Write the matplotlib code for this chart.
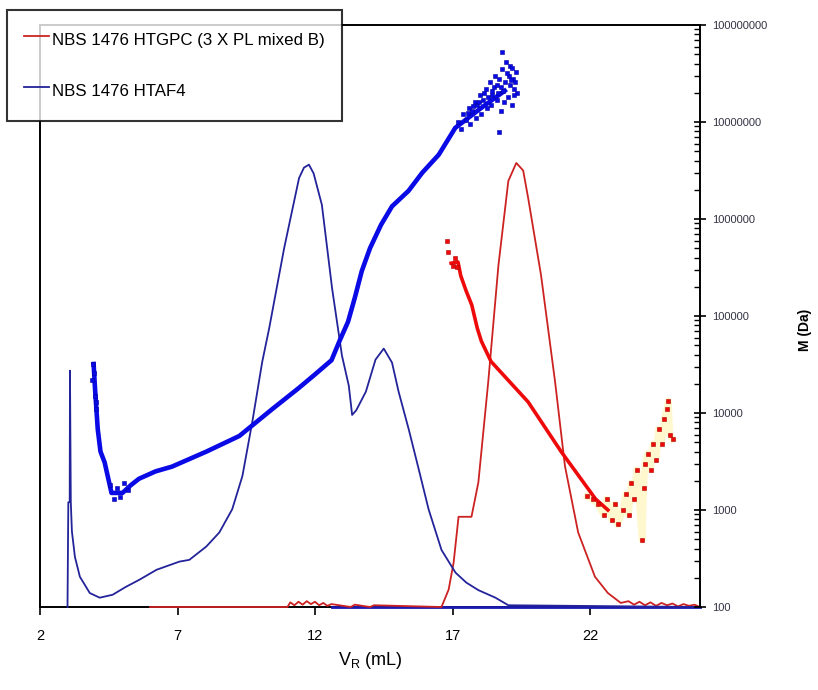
import matplotlib
matplotlib.use("Agg")
import matplotlib.pyplot as plt
from matplotlib.ticker import FixedLocator, FuncFormatter, NullFormatter, LogLocator

plt.rcParams['font.family'] = ['Liberation Sans', 'DejaVu Sans']

# ---------------- data ----------------
# HTAF4 concentration signal (relative)
af4_vr = [3.00, 3.03, 3.08, 3.09, 3.12, 3.16, 3.27, 3.45, 3.81, 4.17,
          4.64, 5.10, 5.62, 6.24, 7.07, 7.43, 8.05, 8.52, 8.99, 9.36,
          9.72, 10.08, 10.33, 10.88, 11.42, 11.60, 11.78, 11.95, 12.25, 12.62,
          12.98, 13.23, 13.35, 13.50, 13.85, 14.20, 14.50, 14.80, 15.04, 15.41,
          15.77, 16.13, 16.60, 17.11, 17.50, 17.94, 18.56, 19.03, 26.00]
af4_sig = [0.000, 0.180, 0.180, 0.406, 0.180, 0.130, 0.086, 0.052, 0.024, 0.016,
           0.021, 0.034, 0.047, 0.064, 0.078, 0.081, 0.104, 0.128, 0.168, 0.225,
           0.318, 0.421, 0.478, 0.617, 0.737, 0.755, 0.760, 0.745, 0.691, 0.548,
           0.432, 0.380, 0.330, 0.338, 0.370, 0.425, 0.444, 0.420, 0.370, 0.305,
           0.237, 0.168, 0.098, 0.059, 0.042, 0.029, 0.016, 0.003, 0.000]
af4_base_vr = [12.6, 26.0]
af4_base_sig = [0.0, 0.0]

# HTGPC concentration signal (relative)
gpc_vr = [6.00, 11.00, 11.10, 11.25, 11.40, 11.55, 11.70, 11.85, 12.00, 12.15,
          12.30, 12.45, 12.60, 13.30, 13.45, 14.00, 14.15, 16.60, 16.86, 17.04,
          17.22, 17.69, 17.94, 18.30, 18.67, 19.03, 19.32, 19.57, 19.75, 20.22,
          20.73, 21.09, 21.57, 22.18, 22.65, 23.12, 23.40, 23.60, 23.80, 24.00,
          24.20, 24.40, 24.60, 24.80, 25.00, 25.20, 25.40, 25.60, 25.80, 26.00]
gpc_sig = [0.000, 0.000, 0.008, 0.003, 0.009, 0.004, 0.010, 0.005, 0.009, 0.003,
           0.007, 0.002, 0.005, 0.000, 0.004, 0.000, 0.003, 0.000, 0.030, 0.076,
           0.155, 0.155, 0.214, 0.387, 0.587, 0.732, 0.763, 0.750, 0.703, 0.570,
           0.387, 0.242, 0.128, 0.052, 0.024, 0.007, 0.010, 0.004, 0.009, 0.003,
           0.008, 0.002, 0.007, 0.003, 0.006, 0.001, 0.005, 0.002, 0.004, 0.000]

# HTAF4 molar mass (Da) - main trend
af4_M_vr = [3.95, 4.00, 4.10, 4.20, 4.35, 4.60, 5.00, 5.30, 5.60, 6.20,
            6.80, 8.05, 9.25, 10.45, 11.40, 12.00, 12.60, 12.90, 13.20, 13.45,
            13.70, 14.00, 14.40, 14.80, 15.40, 15.90, 16.50, 17.10, 18.05, 18.90]
af4_M = [3.2e4, 1.8e4, 6.8e3, 4.0e3, 3.1e3, 1.5e3, 1.5e3, 1.8e3, 2.1e3, 2.5e3,
         2.8e3, 4.0e3, 5.8e3, 1.1e4, 1.8e4, 2.5e4, 3.5e4, 5.6e4, 8.7e4, 1.55e5,
         2.9e5, 5.0e5, 8.7e5, 1.35e6, 1.95e6, 3.0e6, 4.6e6, 8.7e6, 1.4e7, 2.1e7]
# HTAF4 molar mass - scattered points
af4_pts_vr = [3.93, 3.95, 3.90, 4.00, 4.05, 4.02, 4.55, 4.70, 4.80, 4.90,
              5.05, 5.20, 17.2, 17.3, 17.4, 17.5, 17.6, 17.65, 17.7, 17.8,
              17.85, 17.9, 18.0, 18.05, 18.1, 18.2, 18.25, 18.3, 18.35, 18.4,
              18.5, 18.55, 18.6, 18.65, 18.7, 18.75, 18.8, 18.85, 18.9, 18.95,
              19.0, 19.05, 19.1, 19.1, 19.15, 19.2, 19.25, 19.3, 19.35, 18.8,
              18.7, 17.55, 17.75, 17.95, 18.15, 18.45, 18.62, 18.78, 18.98, 19.12,
              19.22, 19.28, 18.42, 18.88, 19.18]
af4_pts_M = [3.2e4, 2.6e4, 2.2e4, 1.5e4, 1.1e4, 1.3e4, 1.8e3, 1.3e3, 1.7e3, 1.35e3,
             1.9e3, 1.6e3, 1.0e7, 8.5e6, 1.2e7, 1.05e7, 1.4e7, 9.5e6, 1.3e7, 1.6e7,
             1.1e7, 1.5e7, 1.9e7, 1.2e7, 1.7e7, 2.2e7, 1.4e7, 1.8e7, 2.6e7, 1.5e7,
             2.3e7, 3.0e7, 1.7e7, 2.0e7, 2.8e7, 1.3e7, 3.5e7, 2.1e7, 2.6e7, 4.2e7,
             1.8e7, 3.0e7, 2.4e7, 3.8e7, 1.5e7, 2.8e7, 2.2e7, 3.3e7, 2.0e7, 5.3e7,
             7.8e6, 1.25e7, 1.45e7, 1.6e7, 2.0e7, 1.9e7, 2.4e7, 2.3e7, 3.2e7, 2.7e7,
             1.9e7, 2.6e7, 2.1e7, 1.6e7, 3.6e7]

# HTGPC molar mass (Da) - main trend
gpc_M_vr = [16.95, 17.20, 17.30, 17.50, 17.70, 17.90, 18.05, 18.40, 19.75, 20.95,
            22.20, 22.65]
gpc_M = [3.5e5, 3.6e5, 2.6e5, 1.8e5, 1.3e5, 7.5e4, 5.5e4, 3.4e4, 1.3e4, 4.0e3,
         1.3e3, 1.0e3]
# HTGPC molar mass - scattered points
gpc_pts_vr = [16.80, 16.85, 17.00, 17.10, 17.15, 21.90, 22.10, 22.30, 22.50, 22.60,
              22.80, 22.90, 23.00, 23.20, 23.30, 23.40, 23.50, 23.60, 23.70, 23.90,
              23.95, 24.00, 24.10, 24.20, 24.30, 24.40, 24.50, 24.60, 24.70, 24.80,
              24.85, 24.90, 25.00]
gpc_pts_M = [5.9e5, 4.6e5, 3.3e5, 4.0e5, 3.2e5, 1.38e3, 1.29e3, 1.14e3, 8.9e2, 1.29e3,
             7.9e2, 1.14e3, 7.1e2, 1.0e3, 1.45e3, 8.9e2, 1.9e3, 1.29e3, 2.6e3, 4.9e2,
             1.7e3, 3.0e3, 3.8e3, 2.6e3, 4.8e3, 3.3e3, 6.8e3, 4.8e3, 8.7e3, 1.1e4,
             1.33e4, 6.0e3, 5.4e3]

x_ticks = [2, 7, 12, 17, 22]
m_ticks = [1e2, 1e3, 1e4, 1e5, 1e6, 1e7, 1e8]
label_gpc = "NBS 1476 HTGPC (3 X PL mixed B)"
label_af4 = "NBS 1476 HTAF4"

# ---------------- figure ----------------
W, H = 818, 690
fig = plt.figure(figsize=(W / 100, H / 100), dpi=100)
ax = fig.add_axes([40 / W, 1 - 607 / H, 660 / W, 582 / H])
ax2 = ax.twinx()

blue_sig = '#23239a'
red_sig = '#cc2222'
blue_M = '#0a0ae6'
red_M = '#ee0a0a'

# signals
ax.plot(af4_base_vr, af4_base_sig, color='#1a1ab0', lw=2.0, zorder=3, clip_on=False)
ax.plot(gpc_vr, gpc_sig, color=red_sig, lw=1.3, zorder=3, clip_on=False)
l_af4, = ax.plot(af4_vr, af4_sig, color=blue_sig, lw=1.3, zorder=4, clip_on=False)
l_gpc, = ax.plot([], [], color=red_sig, lw=1.3)
ax.set_xlim(2, 26)
ax.set_ylim(0, 1)

# molar masses
ax2.set_yscale('log')
ax2.set_ylim(m_ticks[0], m_ticks[-1])
ax2.plot(gpc_pts_vr[5:], gpc_pts_M[5:], color='#fff4b0', lw=5, alpha=0.6, zorder=1)
ax2.plot(gpc_M_vr, gpc_M, color=red_M, lw=2.6, zorder=2)
ax2.plot(gpc_pts_vr, gpc_pts_M, ls='none', marker='s', ms=2.4, color=red_M,
         mec='#b00000', mew=0.4, zorder=3)
ax2.plot(af4_M_vr, af4_M, color=blue_M, lw=3.3, zorder=2)
ax2.plot(af4_pts_vr, af4_pts_M, ls='none', marker='s', ms=2.4, color=blue_M,
         mec='#0000a0', mew=0.4, zorder=3)

# spines / ticks
for s in ['left', 'top', 'bottom']:
    ax2.spines[s].set_visible(False)
ax.spines['right'].set_visible(False)
for s in ['left', 'bottom', 'top']:
    ax.spines[s].set_linewidth(1.4)
ax2.spines['right'].set_linewidth(1.4)

ax.set_xticks(x_ticks)
ax.set_xticklabels([str(t) for t in x_ticks])
ax.tick_params(axis='x', direction='out', length=6, width=1.2, labelsize=10.5,
               pad=10, colors='black')
ax.tick_params(axis='y', left=False, labelleft=False)
ax2.tick_params(axis='x', bottom=False, labelbottom=False)

ax2.yaxis.set_major_locator(FixedLocator(m_ticks))
ax2.yaxis.set_minor_locator(LogLocator(base=10, subs=range(2, 10), numticks=20))
ax2.yaxis.set_major_formatter(FuncFormatter(lambda v, _: f"{int(round(v))}"))
ax2.yaxis.set_minor_formatter(NullFormatter())
ax2.tick_params(axis='y', which='major', direction='inout', length=9, width=1.2,
                labelsize=8, labelcolor='#333344', pad=4)
ax2.tick_params(axis='y', which='minor', direction='in', length=4, width=1.0)

ax.set_xlabel(r"V$_\mathregular{R}$ (mL)", fontsize=13, labelpad=5)
fig.text(805 / W, 1 - 330 / H, "M (Da)", rotation=90, fontsize=10,
         fontweight='bold', ha='center', va='center')

leg = fig.legend([l_gpc, l_af4], [label_gpc, label_af4], loc='upper left',
                 bbox_to_anchor=(7 / W, 1 - 10 / H), fontsize=12.2,
                 frameon=True, fancybox=False, edgecolor='black',
                 handlelength=1.5, handleheight=2.0, handletextpad=0.15,
                 labelspacing=1.45, borderpad=1.0, borderaxespad=0.0)
leg.get_frame().set_linewidth(1.5)
leg.set_zorder(10)

fig.savefig("out.png", dpi=100)
